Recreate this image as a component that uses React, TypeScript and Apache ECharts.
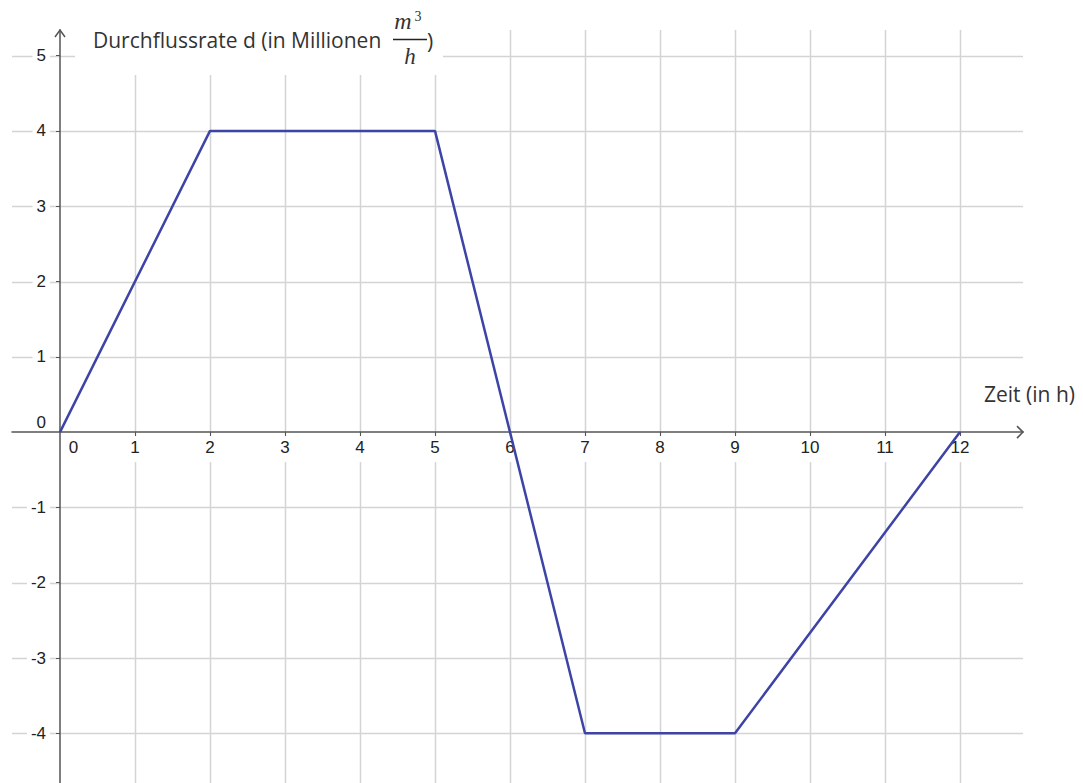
import React, { useEffect, useRef } from "react";
import * as echarts from "echarts";

// data
const timeH = [0, 2, 5, 6, 7, 9, 12];
const rate = [0, 4, 4, 0, -4, -4, 0];
const xTicks = [0, 1, 2, 3, 4, 5, 6, 7, 8, 9, 10, 11, 12];
const yTicks = [-4, -3, -2, -1, 0, 1, 2, 3, 4, 5];
const xGridLines = [1, 2, 3, 4, 5, 6, 7, 8, 9, 10, 11, 12];
const yGridLines = [-4, -3, -2, -1, 1, 2, 3, 4, 5];

const X_MIN = -0.64;
const X_MAX = 12.84;
const Y_MIN = -4.66;
const Y_MAX = 5.34;

const W = 1083;
const H = 783;
const G_LEFT = 12;
const G_RIGHT = 60;
const G_TOP = 30;
const G_BOTTOM = 0;

const AXIS_COLOR = "#555555";
const GRID_COLOR = "#d4d4d4";
const TEXT_COLOR = "#333333";
const TICK_TEXT_COLOR = "#222222";
const LINE_COLOR = "#3d44a6";
const TICK_FONT_SIZE = 17;

export default function App() {
  const ref = useRef<HTMLDivElement>(null);

  useEffect(() => {
    if (!ref.current) return;
    const chart = echarts.init(ref.current, undefined, { renderer: "svg" });

    const gw = W - G_LEFT - G_RIGHT;
    const gh = H - G_TOP - G_BOTTOM;
    // move axes so they cross at (0, 0)
    const xAxisOffset = -(gh * (0 - Y_MIN)) / (Y_MAX - Y_MIN);
    const yAxisOffset = -(gw * (0 - X_MIN)) / (X_MAX - X_MIN);

    const gridData: number[][] = [
      ...yGridLines.map((v) => [0, v]),
      ...xGridLines.map((v) => [1, v]),
    ];

    const labelFont = "Liberation Sans";

    const option: any = {
      animation: false,
      backgroundColor: "#ffffff",
      grid: {
        left: G_LEFT,
        right: G_RIGHT,
        top: G_TOP,
        bottom: G_BOTTOM,
        containLabel: false,
        outerBoundsMode: "none",
      },
      xAxis: {
        type: "value",
        position: "bottom",
        offset: xAxisOffset,
        min: X_MIN,
        max: X_MAX,
        z: 1,
        splitLine: { show: false },
        axisLine: {
          show: true,
          onZero: false,
          lineStyle: { color: AXIS_COLOR, width: 1.5 },
        },
        axisTick: {
          show: true,
          customValues: xTicks.filter((v) => v !== 0),
          length: 4,
          lineStyle: { color: AXIS_COLOR, width: 1 },
        },
        axisLabel: {
          customValues: xTicks,
          margin: 4,
          color: TICK_TEXT_COLOR,
          fontSize: TICK_FONT_SIZE,
          fontFamily: labelFont,
          formatter: (v: number) => (v === 0 ? "{o|0}" : `{n|${v}}`),
          rich: {
            n: {
              backgroundColor: "#ffffff",
              padding: [3, 4, 6, 4],
              fontSize: TICK_FONT_SIZE,
              fontFamily: labelFont,
              color: TICK_TEXT_COLOR,
            },
            o: {
              padding: [3, 0, 6, 27],
              fontSize: TICK_FONT_SIZE,
              fontFamily: labelFont,
              color: TICK_TEXT_COLOR,
            },
          },
        },
      },
      yAxis: {
        type: "value",
        position: "left",
        offset: yAxisOffset,
        min: Y_MIN,
        max: Y_MAX,
        z: 1,
        splitLine: { show: false },
        axisLine: {
          show: true,
          onZero: false,
          lineStyle: { color: AXIS_COLOR, width: 1.5 },
        },
        axisTick: {
          show: true,
          customValues: yTicks.filter((v) => v !== 0),
          length: 4,
          lineStyle: { color: AXIS_COLOR, width: 1 },
        },
        axisLabel: {
          customValues: yTicks,
          margin: 10,
          color: TICK_TEXT_COLOR,
          fontSize: TICK_FONT_SIZE,
          fontFamily: labelFont,
          formatter: (v: number) => (v === 0 ? "{o|0}" : `{n|${v}}`),
          rich: {
            n: {
              backgroundColor: "#ffffff",
              padding: [2, 4, 2, 4],
              fontSize: TICK_FONT_SIZE,
              fontFamily: labelFont,
              color: TICK_TEXT_COLOR,
            },
            o: {
              padding: [0, 4, 20, 4],
              fontSize: TICK_FONT_SIZE,
              fontFamily: labelFont,
              color: TICK_TEXT_COLOR,
            },
          },
        },
      },
      graphic: [
        {
          type: "rect",
          z: 100,
          shape: { x: 75, y: 0, width: 368, height: 75 },
          style: { fill: "#ffffff" },
        },
        {
          type: "text",
          z: 101,
          x: 93,
          y: 40,
          style: {
            text: "Durchflussrate d (in Millionen",
            font: '21px "Open Sans"',
            fill: TEXT_COLOR,
            textAlign: "left",
            textVerticalAlign: "middle",
          },
        },
        {
          type: "text",
          z: 101,
          x: 403,
          y: 21,
          style: {
            text: "m",
            font: 'italic 24px "Liberation Serif"',
            fill: TEXT_COLOR,
            textAlign: "center",
            textVerticalAlign: "middle",
          },
        },
        {
          type: "text",
          z: 101,
          x: 418,
          y: 16,
          style: {
            text: "3",
            font: '14px "Liberation Serif"',
            fill: TEXT_COLOR,
            textAlign: "center",
            textVerticalAlign: "middle",
          },
        },
        {
          type: "line",
          z: 101,
          shape: { x1: 393, y1: 39.5, x2: 427, y2: 39.5 },
          style: { stroke: "#222222", lineWidth: 1.5 },
        },
        {
          type: "text",
          z: 101,
          x: 410,
          y: 56,
          style: {
            text: "h",
            font: 'italic 23px "Liberation Serif"',
            fill: TEXT_COLOR,
            textAlign: "center",
            textVerticalAlign: "middle",
          },
        },
        {
          type: "text",
          z: 101,
          x: 427,
          y: 41,
          style: {
            text: ")",
            font: '21px "Open Sans"',
            fill: TEXT_COLOR,
            textAlign: "left",
            textVerticalAlign: "middle",
          },
        },
        {
          type: "text",
          z: 101,
          x: 984,
          y: 394,
          style: {
            text: "Zeit (in h)",
            font: '21px "Open Sans"',
            fill: TEXT_COLOR,
            textAlign: "left",
            textVerticalAlign: "middle",
          },
        },
      ],
      series: [
        {
          type: "custom",
          name: "grid",
          z: 0,
          silent: true,
          clip: false,
          data: gridData,
          renderItem: (params: any, api: any) => {
            const cs = params.coordSys;
            const kind = api.value(0);
            const v = api.value(1);
            if (kind === 0) {
              const y = Math.round(api.coord([0, v])[1]) + 0.5;
              return {
                type: "line",
                shape: { x1: cs.x, y1: y, x2: cs.x + cs.width, y2: y },
                style: { stroke: GRID_COLOR, lineWidth: 1.5 },
              };
            }
            const x = Math.round(api.coord([v, 0])[0]) + 0.5;
            return {
              type: "line",
              shape: { x1: x, y1: cs.y, x2: x, y2: cs.y + cs.height },
              style: { stroke: GRID_COLOR, lineWidth: 1.5 },
            };
          },
        },
        {
          type: "custom",
          name: "arrows",
          z: 3,
          silent: true,
          clip: false,
          data: [
            [X_MAX, 0, 0],
            [0, Y_MAX, 1],
          ],
          renderItem: (params: any, api: any) => {
            const p = api.coord([api.value(0), api.value(1)]);
            const kind = api.value(2);
            const pts =
              kind === 0
                ? [
                    [p[0] - 6, p[1] - 6],
                    [p[0], p[1]],
                    [p[0] - 6, p[1] + 6],
                  ]
                : [
                    [p[0] - 5, p[1] + 7],
                    [p[0], p[1]],
                    [p[0] + 5, p[1] + 7],
                  ];
            return {
              type: "polyline",
              shape: { points: pts },
              style: { stroke: AXIS_COLOR, lineWidth: 1.5, fill: "none" },
            };
          },
        },
        {
          type: "line",
          name: "Durchflussrate",
          z: 4,
          data: timeH.map((t, i) => [t, rate[i]]),
          symbol: "none",
          lineStyle: { color: LINE_COLOR, width: 2.5 },
        },
      ],
    };

    chart.setOption(option);
    return () => {
      chart.dispose();
    };
  }, []);

  return (
    <div
      ref={ref}
      style={{
        position: "fixed",
        left: 0,
        top: 0,
        width: W,
        height: H,
        background: "#ffffff",
      }}
    />
  );
}
